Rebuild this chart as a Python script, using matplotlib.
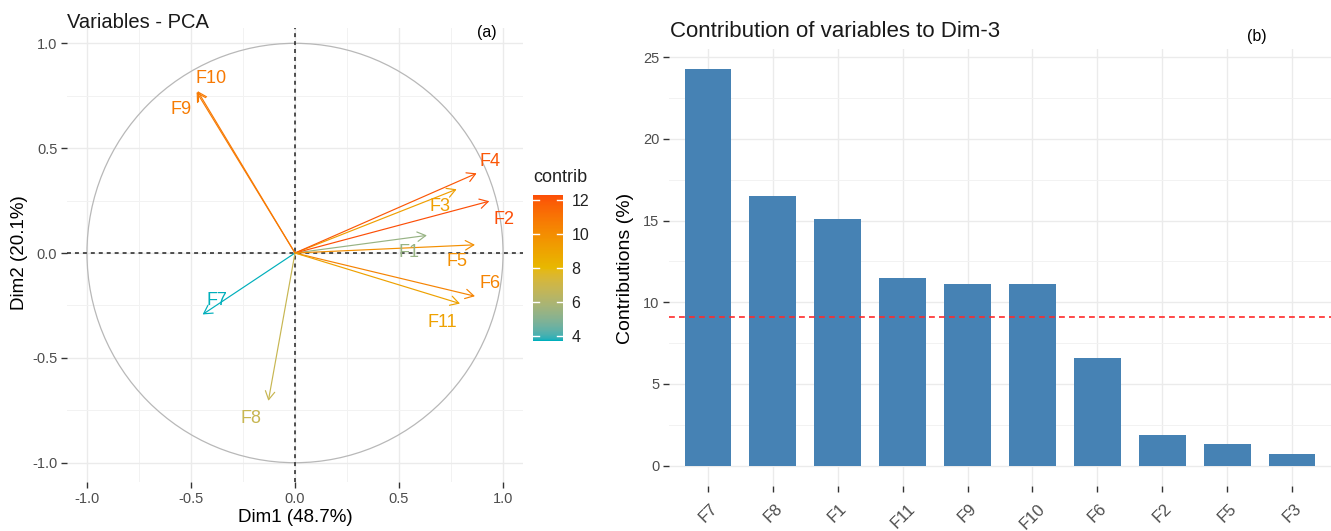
import numpy as np
import matplotlib
matplotlib.use("Agg")
import matplotlib.pyplot as plt
from matplotlib.colors import ListedColormap, Normalize, to_rgb
from matplotlib.cm import ScalarMappable
from matplotlib.patches import FancyArrowPatch, Circle, ArrowStyle

plt.rcParams['font.family'] = ['Liberation Sans', 'DejaVu Sans']

# ---- PCA variable coordinates (Dim1, Dim2) and their contributions ----
variables = ["F1", "F2", "F3", "F4", "F5", "F6", "F7", "F8", "F9", "F10", "F11"]
dim1 = [0.634, 0.934, 0.777, 0.873, 0.865, 0.865, -0.444, -0.128, -0.473, -0.468, 0.793]
dim2 = [0.084, 0.247, 0.304, 0.380, 0.039, -0.206, -0.293, -0.705, 0.768, 0.772, -0.241]
contrib = [5.4, 12.3, 9.2, 12.0, 9.9, 10.4, 3.7, 6.8, 10.7, 10.8, 9.1]
contrib_ticks = [4, 6, 8, 10, 12]
gradient_cols = ["#00AFBB", "#E7B800", "#FC4E07"]

# ---- contributions of variables to Dim-3 (sorted) ----
dim3_vars = ["F7", "F8", "F1", "F11", "F9", "F10", "F6", "F2", "F5", "F3"]
dim3_contrib = [24.3, 16.5, 15.1, 11.5, 11.1, 11.1, 6.6, 1.9, 1.3, 0.7]
expected_contrib = 100 / len(variables)

W, H = 1331, 531
fig = plt.figure(figsize=(W / 100, H / 100), dpi=100)


def fx(x):
    return x / W


def fy(y):
    return 1 - y / H


# ---- colour ramp interpolated in CIELAB space ----
_WHITE = np.array([0.95047, 1.0, 1.08883])
_M = np.array([[0.4124564, 0.3575761, 0.1804375],
               [0.2126729, 0.7151522, 0.0721750],
               [0.0193339, 0.1191920, 0.9503041]])


def rgb_to_lab(rgb):
    c = np.asarray(rgb, float)
    lin = np.where(c <= 0.04045, c / 12.92, ((c + 0.055) / 1.055) ** 2.4)
    xyz = _M @ lin / _WHITE
    d = 6 / 29
    f = np.where(xyz > d ** 3, np.cbrt(xyz), xyz / (3 * d * d) + 4 / 29)
    return np.array([116 * f[1] - 16, 500 * (f[0] - f[1]), 200 * (f[1] - f[2])])


def lab_to_rgb(lab):
    L, a, b = lab
    fy_ = (L + 16) / 116
    f = np.array([fy_ + a / 500, fy_, fy_ - b / 200])
    d = 6 / 29
    xyz = np.where(f > d, f ** 3, 3 * d * d * (f - 4 / 29)) * _WHITE
    lin = np.linalg.solve(_M, xyz)
    lin = np.clip(lin, 0, 1)
    c = np.where(lin <= 0.0031308, 12.92 * lin, 1.055 * lin ** (1 / 2.4) - 0.055)
    return np.clip(c, 0, 1)


labs = [rgb_to_lab(to_rgb(c)) for c in gradient_cols]
ramp = []
for t in np.linspace(0, 1, 256):
    seg = min(int(t * (len(labs) - 1)), len(labs) - 2)
    u = t * (len(labs) - 1) - seg
    ramp.append(lab_to_rgb((1 - u) * labs[seg] + u * labs[seg + 1]))
grad = ListedColormap(ramp)
norm = Normalize(min(contrib), max(contrib))

GRID = "#EBEBEB"
TICK_TXT = "#4D4D4D"
TICK_CLR = "#333333"

# label offsets (pixels) from each arrow tip
label_offsets = {
    "F1": (-18, -17), "F2": (15, -18), "F3": (-17, -17), "F4": (13, 12),
    "F5": (-18, -17), "F6": (15, 13), "F7": (14, 14), "F8": (-17, -18),
    "F9": (-16, -18), "F10": (13, 13), "F11": (-18, -19),
}

# ================= (a) variables correlation circle =================
ax1 = fig.add_axes([fx(67), fy(482), (523 - 67) / W, (482 - 28) / H])
ax1.set_xlim(-1.096, 1.096)
ax1.set_ylim(-1.092, 1.073)
for s in ax1.spines.values():
    s.set_visible(False)
ax1.set_xticks([-1.0, -0.5, 0.0, 0.5, 1.0])
ax1.set_yticks([-1.0, -0.5, 0.0, 0.5, 1.0])
ax1.set_xticks([-0.75, -0.25, 0.25, 0.75], minor=True)
ax1.set_yticks([-0.75, -0.25, 0.25, 0.75], minor=True)
ax1.set_xticklabels(["-1.0", "-0.5", "0.0", "0.5", "1.0"])
ax1.set_yticklabels(["-1.0", "-0.5", "0.0", "0.5", "1.0"])
ax1.grid(which="major", color=GRID, lw=1.0)
ax1.grid(which="minor", color="#F2F2F2", lw=0.7)
ax1.set_axisbelow(True)
ax1.tick_params(which="major", length=4, width=1, color=TICK_CLR,
                labelcolor=TICK_TXT, labelsize=10.5, pad=3)
ax1.tick_params(which="minor", length=0)

ax1.add_patch(Circle((0, 0), 1, fill=False, ec="#B8B8B8", lw=0.9, zorder=1))
ax1.axhline(0, color="#222222", lw=1.1, ls=(0, (2.6, 2.6)), zorder=2)
ax1.axvline(0, color="#222222", lw=1.1, ls=(0, (2.6, 2.6)), zorder=2)

head = ArrowStyle("->", head_length=6.0, head_width=3.4)
for name, x, y, c in zip(variables, dim1, dim2, contrib):
    col = grad(norm(c))
    ax1.add_patch(FancyArrowPatch((0, 0), (x, y), arrowstyle=head, mutation_scale=1,
                                  color=col, lw=0.85, shrinkA=0, shrinkB=0, zorder=3))
    dx, dy = label_offsets[name]
    ax1.annotate(name, (x, y), xytext=(dx, dy), textcoords="offset pixels",
                 ha="center", va="center", fontsize=13, color=col, zorder=4)

# colour bar for contrib
cax = fig.add_axes([fx(533), fy(341), 30 / W, (341 - 195) / H])
sm = ScalarMappable(norm=norm, cmap=grad)
cb = fig.colorbar(sm, cax=cax, ticks=contrib_ticks)
cb.outline.set_visible(False)
cax.tick_params(length=0, labelsize=11.5, labelcolor="#222222", pad=6)
for v in contrib_ticks:
    cax.plot([0, 0.2], [v, v], color="white", lw=1, transform=cax.get_yaxis_transform())
    cax.plot([0.8, 1], [v, v], color="white", lw=1, transform=cax.get_yaxis_transform())
fig.text(fx(533), fy(178), "contrib", ha="left", va="center", fontsize=13, color="#222222")

fig.text(fx(67), fy(28.3), "Variables - PCA", ha="left", va="baseline", fontsize=14.5,
         color="#1A1A1A")
fig.text(fx(487), fy(33), "(a)", ha="center", va="center", fontsize=11.5)
fig.text(fx(295), fy(518), "Dim1 (48.7%)", ha="center", va="center", fontsize=13.5)
fig.text(fx(20), fy(253), "Dim2 (20.1%)", ha="center", va="center", fontsize=13.5,
         rotation=90)

# ================= (b) contributions to Dim-3 =================
ax2 = fig.add_axes([fx(669), fy(485.6), (W - 669) / W, (485.6 - 48.8) / H])
pos = list(range(len(dim3_vars)))
ax2.bar(pos, dim3_contrib, width=0.72, color="#4682B4", zorder=2)
ax2.axhline(expected_contrib, color="#FF2A2A", lw=1.2, ls=(0, (3.5, 2.5)), zorder=3)
ax2.set_xlim(-0.6, len(dim3_vars) - 0.4)
ax2.set_ylim(-1.22, 25.52)
for s in ax2.spines.values():
    s.set_visible(False)
ax2.set_yticks([0, 5, 10, 15, 20, 25])
ax2.set_yticks([2.5, 7.5, 12.5, 17.5, 22.5], minor=True)
ax2.set_xticks(pos)
ax2.set_xticklabels(dim3_vars, rotation=45, ha="center", va="top")
ax2.grid(which="major", color=GRID, lw=1.0)
ax2.grid(which="minor", axis="y", color="#F2F2F2", lw=0.7)
ax2.set_axisbelow(True)
ax2.tick_params(which="major", length=4, width=1, color=TICK_CLR,
                labelcolor=TICK_TXT, labelsize=10.5, pad=3)
ax2.tick_params(axis="x", pad=7, labelsize=12)
ax2.tick_params(which="minor", length=0)

fig.text(fx(670), fy(36.7), "Contribution of variables to Dim-3", ha="left",
         va="baseline", fontsize=16, color="#1A1A1A")
fig.text(fx(1257), fy(36), "(b)", ha="center", va="center", fontsize=11.5)
fig.text(fx(626), fy(268), "Contributions (%)", ha="center", va="center", fontsize=14,
         rotation=90)

fig.savefig("out.png", dpi=100)
